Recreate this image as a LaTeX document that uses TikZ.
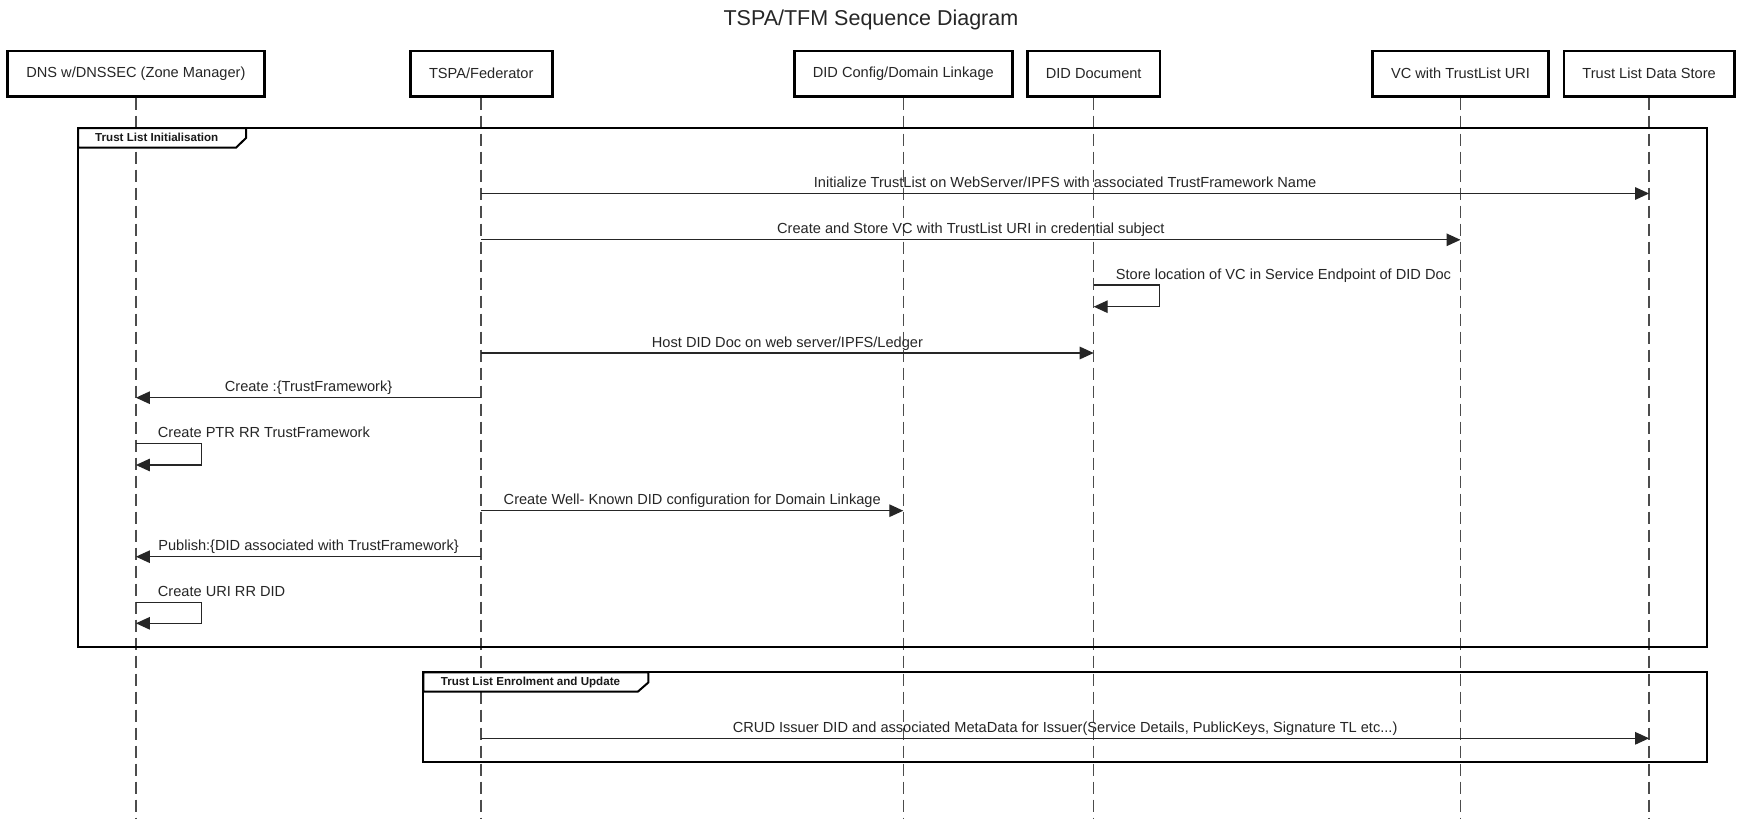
\documentclass[tikz,border=0pt]{standalone}
\usepackage{fontspec}
\setmainfont{Liberation Sans}
\usetikzlibrary{arrows.meta}
\tikzset{
  x=1pt, y=-1pt,
  actor/.style={draw=black, line width=2.8pt, minimum height=45.3pt, inner sep=0pt,
    font=\fontsize{14.6}{17}\selectfont, text=black!85},
  lifeline/.style={draw=black!70, line width=1.5pt, dash pattern=on 12pt off 6pt},
  msg/.style={draw=black!85, line width=1.3pt, -{Triangle[length=14pt,width=12.5pt]}},
  lbl/.style={font=\fontsize{14.6}{17}\selectfont, text=black!85, anchor=base, inner sep=0pt},
  slbl/.style={font=\fontsize{14.6}{17}\selectfont, text=black!85, anchor=base west, inner sep=0pt},
  framebox/.style={draw=black, line width=2pt},
  tabbox/.style={draw=black, line width=2pt, fill=white},
  framelbl/.style={font=\bfseries\fontsize{11.6}{13}\selectfont, text=black!90, anchor=base west, inner sep=0pt},
  titlelbl/.style={font=\fontsize{21.5}{25}\selectfont, text=black!85, anchor=base, inner sep=0pt},
}
\begin{document}
\begin{tikzpicture}
\useasboundingbox[fill=white] (0,0) rectangle (1741,819);

% title
\node[titlelbl] (title) at (870.9,25) {TSPA/TFM Sequence Diagram};

% actors
\node[actor, minimum width=256.4pt] (dns)  at (135.9,73.65)  {DNS w/DNSSEC (Zone Manager)};
\node[actor, minimum width=141.9pt] (tspa) at (481.2,73.65)  {TSPA/Federator};
\node[actor, minimum width=218.2pt] (didc) at (903.3,73.65)  {DID Config/Domain Linkage};
\node[actor, minimum width=132.4pt] (didd) at (1093.7,73.65) {DID Document};
\node[actor, minimum width=176pt]   (vc)   at (1460.5,73.65) {VC with TrustList URI};
\node[actor, minimum width=170.2pt] (tlds) at (1649.1,73.65) {Trust List Data Store};

% lifeline ends
\coordinate (dnsE)  at (135.9,819);
\coordinate (tspaE) at (481.2,819);
\coordinate (didcE) at (903.3,819);
\coordinate (diddE) at (1093.7,819);
\coordinate (vcE)   at (1460.5,819);
\coordinate (tldsE) at (1649.1,819);

\draw[lifeline] (dns.south)  -- (dnsE);
\draw[lifeline] (tspa.south) -- (tspaE);
\draw[lifeline] (didc.south) -- (didcE);
\draw[lifeline] (didd.south) -- (diddE);
\draw[lifeline] (vc.south)   -- (vcE);
\draw[lifeline] (tlds.south) -- (tldsE);

% frame 1
\draw[framebox] (78,128) rectangle (1706.7,647.3);
\draw[tabbox] (78,128) -- (246,128) -- (246,138) -- (236,147.7) -- (78,147.7) -- cycle;
\node[framelbl] (f1lbl) at (95,141.4) {Trust List Initialisation};

% frame 2
\draw[framebox] (423.3,672.3) rectangle (1706.7,761.5);
\draw[tabbox] (423.3,672.3) -- (648.3,672.3) -- (648.3,682.5) -- (637.8,691.7) -- (423.3,691.7) -- cycle;
\node[framelbl] (f2lbl) at (440.7,685.7) {Trust List Enrolment and Update};

% message coordinates
\coordinate (m1a) at (481.2,193.5);  \coordinate (m1b) at (1649.1,193.5);
\coordinate (m2a) at (481.2,239.8);  \coordinate (m2b) at (1460.5,239.8);
\coordinate (m3a) at (1093.7,285);   \coordinate (m3b) at (1093.7,306.7);
\coordinate (m4a) at (481.2,353);    \coordinate (m4b) at (1093.7,353);
\coordinate (m5a) at (481.2,397.7);  \coordinate (m5b) at (135.9,397.7);
\coordinate (m6a) at (135.9,443.3);  \coordinate (m6b) at (135.9,465);
\coordinate (m7a) at (481.2,510.7);  \coordinate (m7b) at (903.3,510.7);
\coordinate (m8a) at (481.2,556.7);  \coordinate (m8b) at (135.9,556.7);
\coordinate (m9a) at (135.9,602.3);  \coordinate (m9b) at (135.9,623.3);
\coordinate (m10a) at (481.2,738.3); \coordinate (m10b) at (1649.1,738.3);

% messages
\draw[msg] (m1a) -- node[lbl, midway, yshift=6pt] {Initialize TrustList on WebServer/IPFS with associated TrustFramework Name} (m1b);
\draw[msg] (m2a) -- node[lbl, midway, yshift=6pt] {Create and Store VC with TrustList URI in credential subject} (m2b);
\draw[msg] (m3a) -- ++(65.6,0) |- (m3b);
\node[slbl] (m3l) at (1115.7,279) {Store location of VC in Service Endpoint of DID Doc};
\draw[msg] (m4a) -- node[lbl, midway, yshift=6pt] {Host DID Doc on web server/IPFS/Ledger} (m4b);
\draw[msg] (m5a) -- node[lbl, midway, yshift=6pt] {Create :\{TrustFramework\}} (m5b);
\draw[msg] (m6a) -- ++(65.4,0) |- (m6b);
\node[slbl] (m6l) at (157.7,437.3) {Create PTR RR TrustFramework};
\draw[msg] (m7a) -- node[lbl, midway, yshift=6pt] {Create Well- Known DID configuration for Domain Linkage} (m7b);
\draw[msg] (m8a) -- node[lbl, midway, yshift=6pt] {Publish:\{DID associated with TrustFramework\}} (m8b);
\draw[msg] (m9a) -- ++(65.4,0) |- (m9b);
\node[slbl] (m9l) at (157.7,596.3) {Create URI RR DID};
\draw[msg] (m10a) -- node[lbl, midway, yshift=6pt] {CRUD Issuer DID and associated MetaData for Issuer(Service Details, PublicKeys, Signature TL etc...)} (m10b);
\end{tikzpicture}
\end{document}
